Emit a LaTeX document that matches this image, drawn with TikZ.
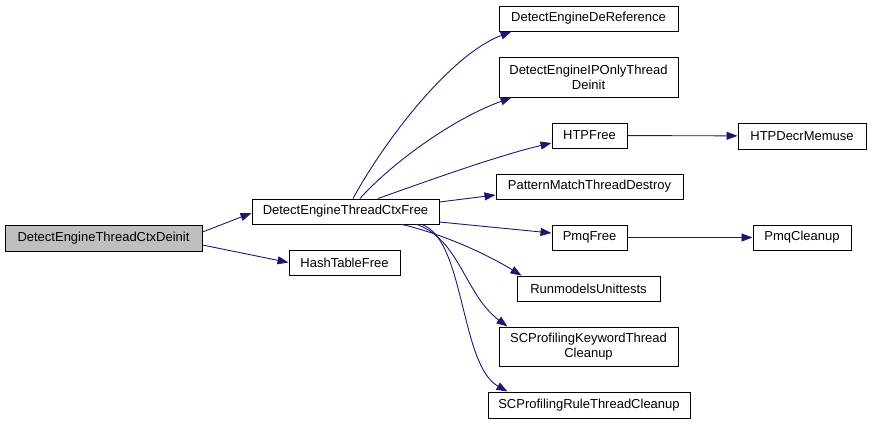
\documentclass[tikz,border=0pt]{standalone}
\usepackage{fontspec}
\setmainfont{Liberation Sans}
\usepackage{tikz}
\usetikzlibrary{arrows.meta}
\definecolor{llamadac}{RGB}{25,25,112}
\definecolor{grisfun}{RGB}{191,191,191}
\tikzset{
  funcion/.style={rectangle, draw=black, fill=white, line width=1pt,
    inner sep=0pt, align=center, font=\fontsize{13}{15}\selectfont},
  funcionsel/.style={funcion, fill=grisfun},
  llamada/.style={-{Triangle[length=11pt, width=8pt]}, line width=0.9pt, color=llamadac}
}
\begin{document}
\begin{tikzpicture}[x=1pt, y=-1pt]
  \useasboundingbox (0,0) rectangle (872,424);
  % funcion raiz y sus llamadas directas
  \node[funcionsel, minimum width=197pt, minimum height=26pt] (deinit) at (103.5,238) {DetectEngineThreadCtxDeinit};
  \node[funcion, minimum width=187pt, minimum height=25pt] (ctxfree) at (345.5,211.5) {DetectEngineThreadCtxFree};
  \node[funcion, minimum width=111pt, minimum height=25pt] (hashfree) at (344.5,262.5) {HashTableFree};
  % segundo nivel
  \node[funcion, minimum width=179pt, minimum height=25pt] (deref) at (588.5,18.5) {DetectEngineDeReference};
  \node[funcion, minimum width=179pt, minimum height=40pt] (iponly) at (588.5,77) {DetectEngineIPOnlyThread\\Deinit};
  \node[funcion, minimum width=75pt, minimum height=25pt] (htpfree) at (589.5,135.5) {HTPFree};
  \node[funcion, minimum width=187pt, minimum height=25pt] (pattern) at (589.5,186.5) {PatternMatchThreadDestroy};
  \node[funcion, minimum width=75pt, minimum height=25pt] (pmqfree) at (589.5,237.5) {PmqFree};
  \node[funcion, minimum width=143pt, minimum height=25pt] (runmodels) at (588.5,288.5) {RunmodelsUnittests};
  \node[funcion, minimum width=179pt, minimum height=39pt] (sckeyword) at (588.5,346.5) {SCProfilingKeywordThread\\Cleanup};
  \node[funcion, minimum width=202pt, minimum height=26pt] (scrule) at (589,405) {SCProfilingRuleThreadCleanup};
  % tercer nivel
  \node[funcion, minimum width=128pt, minimum height=26pt] (htpdecr) at (802,136) {HTPDecrMemuse};
  \node[funcion, minimum width=98pt, minimum height=25pt] (pmqclean) at (802,237.5) {PmqCleanup};

  \draw[llamada] ([yshift=6pt]deinit.east) -- ([yshift=-1.5pt]ctxfree.west);
  \draw[llamada] ([yshift=-7pt]deinit.east) -- (hashfree.west);
  \draw[llamada] ([xshift=7.5pt]ctxfree.north) .. controls (385,140) and (450,55) .. ([xshift=13pt]deref.south west);
  \draw[llamada] ([xshift=14.5pt]ctxfree.north) .. controls (390,165) and (450,120) .. ([xshift=13pt]iponly.south west);
  \draw[llamada] ([xshift=32.5pt]ctxfree.north) .. controls (430,180) and (500,155) .. ([yshift=-7.5pt]htpfree.west);
  \draw[llamada] ([yshift=9.5pt]ctxfree.east) -- ([yshift=-8.5pt]pattern.west);
  \draw[llamada] ([yshift=-10.5pt]ctxfree.east) -- ([yshift=4.5pt]pmqfree.west);
  \draw[llamada] ([xshift=56.5pt]ctxfree.south) .. controls (435,232) and (480,250) .. ([xshift=5pt]runmodels.north west);
  \draw[llamada] ([xshift=71.5pt]ctxfree.south) .. controls (460,240) and (465,295) .. ([xshift=9pt]sckeyword.north west);
  \draw[llamada] ([xshift=76.5pt]ctxfree.south) .. controls (465,240) and (460,365) .. ([xshift=20pt]scrule.north west);
  \draw[llamada] (htpfree) -- (htpdecr);
  \draw[llamada] (pmqfree) -- (pmqclean);
\end{tikzpicture}
\end{document}
